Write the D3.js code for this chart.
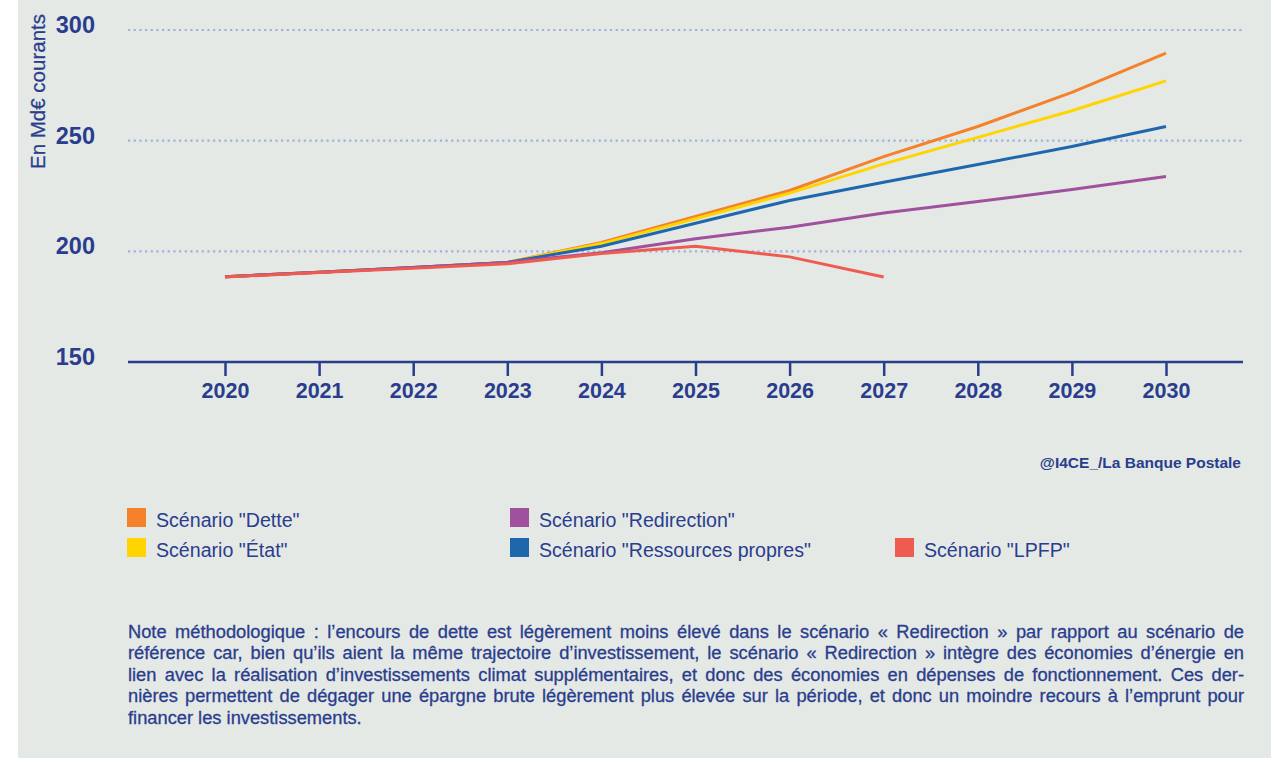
<!DOCTYPE html>
<html>
<head>
<meta charset="utf-8">
<script src="https://cdn.jsdelivr.net/npm/d3@7"></script>
<style>
  html, body { margin: 0; padding: 0; background: #ffffff; }
  svg { display: block; font-family: "Liberation Sans", Arial, Helvetica, sans-serif; }
</style>
</head>
<body>
<svg id="chart"></svg>
<script>
// data
var years = [2020, 2021, 2022, 2023, 2024, 2025, 2026, 2027, 2028, 2029, 2030];
var dette = [188.5, 190.6, 192.7, 195.0, 204.0, 215.8, 227.5, 242.8, 256.4, 271.8, 289.5];
var etat = [188.5, 190.6, 192.7, 195.0, 203.5, 214.7, 226.3, 239.5, 251.5, 263.5, 277.0];
var ressources = [188.5, 190.6, 192.7, 195.0, 202.3, 212.7, 223.0, 231.2, 239.2, 247.4, 256.4];
var redirection = [188.5, 190.6, 192.7, 195.0, 199.4, 205.7, 210.9, 217.3, 222.5, 227.9, 233.8];
var lpfpYears = [2020, 2021, 2022, 2023, 2024, 2025, 2026, 2027];
var lpfp = [188.4, 190.4, 192.3, 194.4, 199.0, 202.3, 197.5, 188.4];
var yTicks = [150, 200, 250, 300];

var series = [
  { name: 'Scénario "Dette"', years: years, values: dette, color: '#f5812a' },
  { name: 'Scénario "État"', years: years, values: etat, color: '#ffd400' },
  { name: 'Scénario "Ressources propres"', years: years, values: ressources, color: '#1f67ad' },
  { name: 'Scénario "Redirection"', years: years, values: redirection, color: '#a0519e' },
  { name: 'Scénario "LPFP"', years: lpfpYears, values: lpfp, color: '#f05b50' }
];

// legend order as in the picture (column by column)
var legendOrder = [0, 3, 1, 2, 4];
var legendPos = [[127, 508], [510, 508], [127, 538], [510, 538], [895, 538]];

var noteLines = [
  "Note méthodologique : l’encours de dette est légèrement moins élevé dans le scénario « Redirection » par rapport au scénario de",
  "référence car, bien qu’ils aient la même trajectoire d’investissement, le scénario « Redirection » intègre des économies d’énergie en",
  "lien avec la réalisation d’investissements climat supplémentaires, et donc des économies en dépenses de fonctionnement. Ces der-",
  "nières permettent de dégager une épargne brute légèrement plus élevée sur la période, et donc un moindre recours à l’emprunt pour",
  "financer les investissements."
];

var width = 1271, height = 759;
var ink = '#2a3d8d';

var svg = d3.select("#chart")
    .attr("width", width)
    .attr("height", height);

svg.append("rect")
    .attr("x", 18).attr("y", 0)
    .attr("width", width - 18).attr("height", 758)
    .attr("fill", "#e4e9e6");

var x = d3.scaleLinear().domain([2020, 2030]).range([225, 1166]);
var y = d3.scaleLinear().domain([150, 300]).range([362, 30]);

// gridlines
svg.append("g")
  .selectAll("line")
  .data(yTicks.filter(function(d) { return d > 150; }))
  .enter().append("line")
    .attr("x1", 128).attr("x2", 1244)
    .attr("y1", function(d) { return y(d); })
    .attr("y2", function(d) { return y(d); })
    .attr("stroke", "#9fb0df")
    .attr("stroke-width", 2.2)
    .attr("stroke-dasharray", "2.2,3.47");

// y tick labels
svg.append("g")
  .selectAll("text")
  .data(yTicks)
  .enter().append("text")
    .attr("x", 95)
    .attr("y", function(d) { return y(d) + 3; })
    .attr("text-anchor", "end")
    .attr("fill", ink)
    .attr("font-size", 23.5)
    .attr("font-weight", "bold")
    .text(function(d) { return d; });

// y title
svg.append("text")
    .attr("transform", "translate(45,91.5) rotate(-90)")
    .attr("text-anchor", "middle")
    .attr("fill", ink)
    .attr("stroke", ink)
    .attr("stroke-width", 0.25)
    .attr("font-size", 20.5)
    .text("En Md€ courants");

// x axis
var xAxis = d3.axisBottom(x)
    .tickValues(years)
    .tickSize(14)
    .tickFormat(d3.format("d"));

var gx = svg.append("g")
    .attr("transform", "translate(0,362)")
    .call(xAxis);
gx.select(".domain").remove();
gx.selectAll(".tick line").attr("stroke", ink).attr("stroke-width", 2.5);
gx.selectAll(".tick text")
    .attr("y", 36).attr("dy", 0)
    .attr("fill", ink)
    .attr("font-size", 21.5)
    .attr("font-weight", "bold")
    .attr("font-family", "'Liberation Sans', Arial, Helvetica, sans-serif");
gx.append("line")
    .attr("x1", 128).attr("x2", 1243)
    .attr("y1", 0).attr("y2", 0)
    .attr("stroke", ink)
    .attr("stroke-width", 2.6);

// lines
var line = d3.line()
    .x(function(d) { return x(d[0]); })
    .y(function(d) { return y(d[1]); });

svg.append("g")
  .selectAll("path")
  .data(series)
  .enter().append("path")
    .attr("fill", "none")
    .attr("stroke", function(d) { return d.color; })
    .attr("stroke-width", 3)
    .attr("d", function(d) { return line(d3.zip(d.years, d.values)); });

// source
svg.append("text")
    .attr("x", 1241).attr("y", 468)
    .attr("text-anchor", "end")
    .attr("fill", ink)
    .attr("font-size", 15.5)
    .attr("font-weight", "bold")
    .text("@I4CE_/La Banque Postale");

// legend
var legend = svg.append("g")
  .selectAll("g")
  .data(legendOrder)
  .enter().append("g")
    .attr("transform", function(d, i) { return "translate(" + legendPos[i][0] + "," + legendPos[i][1] + ")"; });

legend.append("rect")
    .attr("width", 19).attr("height", 19)
    .attr("fill", function(d) { return series[d].color; });

legend.append("text")
    .attr("x", 29).attr("y", 19)
    .attr("fill", ink)
    .attr("font-size", 19.6)
    .text(function(d) { return series[d].name; });

// note, justified to the plot width
var noteWidth = 1116;
var note = svg.append("g")
  .selectAll("text")
  .data(noteLines)
  .enter().append("text")
    .attr("x", 128)
    .attr("y", function(d, i) { return 638 + i * 21.4; })
    .attr("fill", ink)
    .attr("stroke", ink)
    .attr("stroke-width", 0.3)
    .attr("font-size", 18.3)
    .text(function(d) { return d; });

note.each(function(d, i) {
  if (i === noteLines.length - 1) return;
  var len = this.getComputedTextLength();
  var gaps = d.split(" ").length - 1;
  d3.select(this).attr("word-spacing", (noteWidth - len) / gaps);
});
</script>
</body>
</html>
